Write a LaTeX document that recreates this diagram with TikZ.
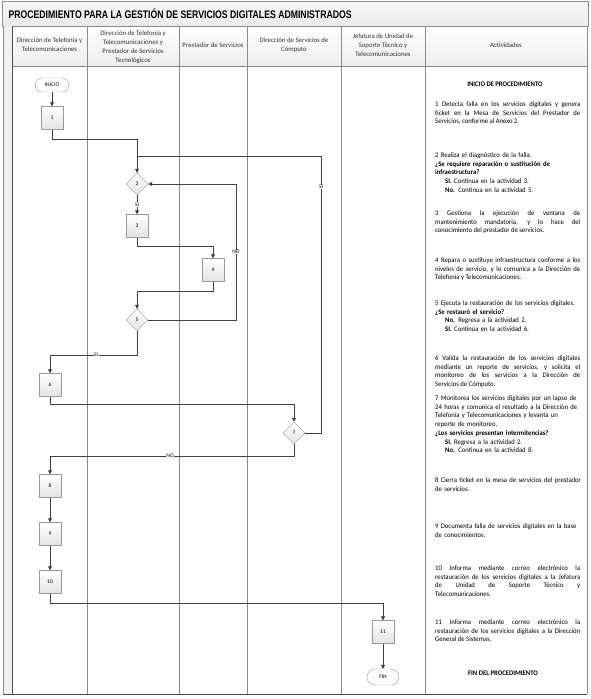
\documentclass[tikz,border=0pt]{standalone}
\usepackage{fontspec}
\setmainfont{Carlito}
\newfontfamily\titlefont{Liberation Sans}[FakeStretch=0.79]
\newfontfamily\actfont{Carlito}[FakeStretch=0.95]
\usetikzlibrary{arrows.meta,positioning,calc,shapes.geometric}
\definecolor{linegray}{HTML}{3F3F3F}
\definecolor{gridgray}{HTML}{8C8C8C}
\definecolor{boxgray}{HTML}{9A9A9A}
\newcommand{\ind}{\hspace*{10pt}}
\tolerance=10000

\begin{document}
\begin{tikzpicture}[x=1pt, y=1pt,
  act/.style={draw=boxgray, top color=white, bottom color=gray!22, minimum width=22pt,
              minimum height=23pt, inner sep=0pt, font=\fontsize{5.5}{6}\selectfont},
  dec/.style={diamond, draw=boxgray, top color=white, bottom color=gray!22, minimum width=22pt,
              minimum height=22pt, inner sep=0pt, font=\fontsize{5.5}{6}\selectfont},
  term/.style={draw=boxgray, rounded corners=7pt, fill=white, minimum width=34pt,
               minimum height=14pt, inner sep=0pt, font=\fontsize{5.5}{6}\selectfont},
  flow/.style={draw=linegray, line width=0.8pt, -{Triangle[width=4pt,length=4pt]}},
  plain/.style={draw=linegray, line width=0.8pt},
  lbl/.style={fill=white, inner sep=0.6pt, font=\fontsize{5.5}{6}\selectfont},
  hdr/.style={align=center, font=\fontsize{6.8}{9}\selectfont, text=black!80},
  desc/.style={anchor=base west, text width=170pt, inner sep=0pt, align=left,
               font=\actfont\fontsize{7}{8.7}\selectfont},
  descj/.style={desc, text width=145pt, align=justify}]
  \useasboundingbox (0,0) rectangle (590,-699);

  % frame and lanes
  \shade[top color=gray!6, bottom color=gray!16, draw=gridgray] (2,-1) rectangle (588,-26);
  \node[anchor=west, font=\titlefont\fontsize{11}{12}\selectfont\bfseries] (title) at (5,-14)
    {PROCEDIMIENTO PARA LA GESTIÓN DE SERVICIOS DIGITALES ADMINISTRADOS};
  \foreach \xa/\xb in {12/87, 87/179, 179/247, 247/341, 341/425, 425/587}
    \shade[top color=white, bottom color=gray!14] (\xa,-26) rectangle (\xb,-66);
  \fill[gray!12] (3,-26) rectangle (12,-694);
  \draw[gridgray] (3,-26) -- (3,-694);
  \draw[gridgray] (12,-66) -- (587,-66);
  \foreach \x in {87, 179, 247, 341, 425}
    \draw[gridgray] (\x,-26) -- (\x,-694);
  \draw[gridgray] (12,-26) -- (587,-26) -- (587,-694);
  \draw[black!70, line width=1pt] (12,-26) -- (12,-694);
  \draw[black!70, line width=1pt] (3,-694) -- (587,-694);

  % lane headers
  \node[hdr] (h1) at (49.5,-45) {Dirección de Telefonía y\\Telecomunicaciones};
  \node[hdr] (h2) at (133,-47) {Dirección de Telefonía y\\Telecomunicaciones y\\Prestador de Servicios\\Tecnológicos};
  \node[hdr] (h3) at (213,-45) {Prestador de Servicios};
  \node[hdr] (h4) at (294,-45) {Dirección de Servicios de\\Cómputo};
  \node[hdr] (h5) at (383,-45) {Jefatura de Unidad de\\Soporte Técnico y\\Telecomunicaciones};
  \node[hdr] (h6) at (506,-45) {Actividades};

  % flow
  \node[term] (inicio) at (52,-85) {INICIO};
  \node[act] (a1) at (52,-118) {1};
  \node[dec] (d2) at (137,-184) {2};
  \node[act] (a3) at (137,-226) {3};
  \node[act] (a4) at (213,-270) {4};
  \node[dec] (d5) at (137,-320) {5};
  \node[act] (a6) at (50,-385) {6};
  \node[dec] (d7) at (294,-433) {7};
  \node[act] (a8) at (50,-486) {8};
  \node[act] (a9) at (50,-534) {9};
  \node[act] (a10) at (50,-582) {10};
  \node[act] (a11) at (383,-632) {11};
  \node[term, minimum width=32pt, minimum height=16pt, rounded corners=8pt] (fin) at (383,-677) {FIN};

  \coordinate (j1) at (137,-139);
  \coordinate (j2) at (137,-156);
  \coordinate (k7) at (321,-156);
  \coordinate (k5) at (236,-320);
  \coordinate (j3) at (137,-246);
  \coordinate (j4) at (213,-291);
  \coordinate (j5) at (137,-355);
  \coordinate (j6) at (50,-404);
  \coordinate (j7) at (294,-456);
  \coordinate (j10) at (50,-603);

  \draw[flow] (inicio) -- (a1);
  \draw[flow] (a1.south) |- (j1) -- (d2.north);
  \draw[plain] (d7.east) -| node[lbl, pos=0.944] {SI} (k7) -- (j2);
  \draw[flow] (d2.south) -- node[lbl] {SI} (a3.north);
  \draw[flow] (a3.south) -- (j3) -| (a4.north);
  \draw[flow] (a4.south) -- (j4) -| (d5.north);
  \draw[flow] (d5.east) -- (k5) |- node[lbl, pos=0.25] {NO} (d2.east);
  \draw[flow] (d5.south) -- (j5) -| node[lbl, pos=0.235] {SI} (a6.north);
  \draw[flow] (a6.south) -- (j6) -| (d7.north);
  \draw[flow] (d7.south) -- (j7) -| node[lbl, pos=0.254] {NO} (a8.north);
  \draw[flow] (a8) -- (a9);
  \draw[flow] (a9) -- (a10);
  \draw[flow] (a10.south) -- (j10) -| (a11.north);
  \draw[flow] (a11) -- (fin);

  % activities
  \node[font=\actfont\fontsize{7}{8}\selectfont\bfseries] (ini) at (505,-84) {INICIO DE PROCEDIMIENTO};
  \node[descj] (t1) at (435,-106.5) {1 Detecta falla en los servicios digitales y genera\linebreak
    ticket en la Mesa de Servicios del Prestador de\linebreak Servicios, conforme al Anexo 2.};
  \node[desc] (t2) at (435,-157.5) {%
    2 Realiza el diagnóstico de la falla.\\
    \textbf{¿Se requiere reparación o sustitución de}\\
    \textbf{infraestructura?}\\
    \ind\textbf{SI.} Continua en la actividad 3.\\
    \ind\textbf{No.} Continúa en la actividad 5.};
  \node[descj] (t3) at (435,-215.5) {3 Gestiona la ejecución de ventana de\linebreak
    mantenimiento mandatoria, y lo hace del\linebreak conocimiento del prestador de servicios.};
  \node[descj] (t4) at (435,-262.5) {4 Repara o sustituye infraestructura conforme a los\linebreak
    niveles de servicio, y lo comunica a la Dirección de\linebreak Telefonía y Telecomunicaciones.};
  \node[desc] (t5) at (435,-305.5) {%
    5 Ejecuta la restauración de los servicios digitales.\\
    \textbf{¿Se restauró el servicio?}\\
    \ind\textbf{No.} Regresa a la actividad 2.\\
    \ind\textbf{SI.} Continúa en la actividad 6.};
  \node[descj] (t6) at (435,-360.5) {6 Valida la restauración de los servicios digitales\linebreak
    mediante un reporte de servicios, y solicita el\linebreak
    monitoreo de los servicios a la Dirección de\linebreak Servicios de Cómputo.};
  \node[desc] (t7) at (435,-400.5) {%
    7 Monitorea los servicios digitales por un lapso de\\
    24 horas y comunica el resultado a la Dirección de\\
    Telefonía y Telecomunicaciones y levanta un\\
    reporte de monitoreo.\\
    \textbf{¿Los servicios presentan intermitencias?}\\
    \ind\textbf{SI.} Regresa a la actividad 2.\\
    \ind\textbf{No.} Continua en la actividad 8.};
  \node[desc] (t8) at (435,-482.5) {%
    8 Cierra ticket en la mesa de servicios del prestador\\
    de servicios.};
  \node[desc] (t9) at (435,-528.5) {%
    9 Documenta falla de servicios digitales en la base\\
    de conocimientos.};
  \node[descj] (t10) at (435,-570.5) {10 Informa mediante correo electrónico la\linebreak
    restauración de los servicios digitales a la Jefatura\linebreak
    de Unidad de Soporte Técnico y\linebreak Telecomunicaciones.};
  \node[descj] (t11) at (435,-624.5) {11 Informa mediante correo electrónico la\linebreak
    restauración de los servicios digitales a la Dirección\linebreak General de Sistemas.};
  \node[font=\actfont\fontsize{7}{8}\selectfont\bfseries] (fintxt) at (503,-673) {FIN DEL PROCEDIMIENTO};
\end{tikzpicture}
\end{document}
